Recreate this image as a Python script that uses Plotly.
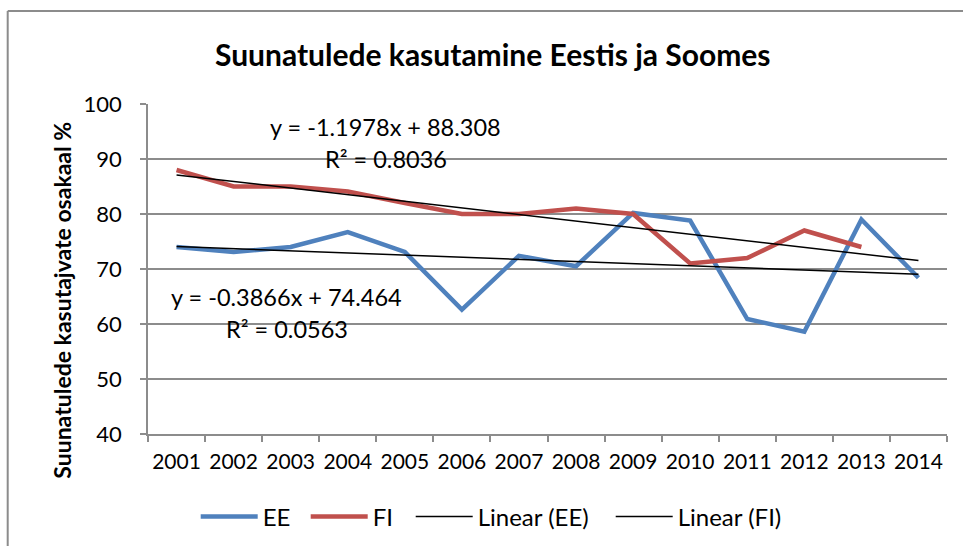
import plotly.graph_objects as go

# ---------------- data ----------------
years = ["2001", "2002", "2003", "2004", "2005", "2006", "2007",
         "2008", "2009", "2010", "2011", "2012", "2013", "2014"]
ee_values = [74.0, 73.1, 74.0, 76.7, 73.1, 62.6, 72.4,
             70.5, 80.2, 78.8, 60.9, 58.6, 79.0, 68.4]
fi_values = [88.0, 85.0, 85.0, 84.1, 82.0, 80.0, 80.0,
             81.0, 80.0, 71.0, 72.0, 77.0, 74.0, None]
# Excel linear trendline coefficients (y = slope * x + intercept, x = 1..n)
ee_trend = {"slope": -0.3866, "intercept": 74.464, "r2": 0.0563}
fi_trend = {"slope": -1.1978, "intercept": 88.308, "r2": 0.8036}
y_ticks = [40, 50, 60, 70, 80, 90, 100]

title_text = "Suunatulede kasutamine Eestis ja Soomes"
y_title_text = "Suunatulede kasutajvate osakaal %"

# ---------------- styling ----------------
FONT = "Lato, Carlito, Calibri, sans-serif"
BLUE = "#4F81BD"
RED = "#C0504D"
GRID = "#8C8C8C"

W, H = 963, 546
L, R, T, B = 148.3, 947.3, 104.0, 434.0


def px(xp):
    return (xp - L) / (R - L)


def py(yp):
    return (B - yp) / (B - T)


xs = list(range(1, len(years) + 1))
ee_fit = [ee_trend["slope"] * x + ee_trend["intercept"] for x in xs]
fi_fit = [fi_trend["slope"] * x + fi_trend["intercept"] for x in xs]

fig = go.Figure()
fig.add_trace(go.Scatter(x=years, y=ee_values, mode="lines", name="EE",
                         line=dict(color=BLUE, width=4.5), legend="legend"))
fig.add_trace(go.Scatter(x=years, y=fi_values, mode="lines", name="FI",
                         line=dict(color=RED, width=4.5), legend="legend2"))
fig.add_trace(go.Scatter(x=years, y=ee_fit, mode="lines", name="Linear (EE)",
                         line=dict(color="black", width=1.5), legend="legend3"))
fig.add_trace(go.Scatter(x=years, y=fi_fit, mode="lines", name="Linear (FI)",
                         line=dict(color="black", width=1.5), legend="legend4"))

ITEMW = 57
leg_common = dict(orientation="h", yanchor="middle", xanchor="left",
                  bgcolor="rgba(0,0,0,0)", borderwidth=0, itemwidth=ITEMW,
                  font=dict(family=FONT, size=24, color="black"))
legend_y = py(517)
off = ITEMW + 10 + 2
fig.update_layout(
    legend=dict(x=px(265 - off), y=legend_y, **leg_common),
    legend2=dict(x=px(375 - off), y=legend_y, **leg_common),
    legend3=dict(x=px(480 - off), y=legend_y, **leg_common),
    legend4=dict(x=px(680 - off), y=legend_y, **leg_common),
)

fig.update_xaxes(type="category", range=[-0.5, len(years) - 0.5],
                 tickson="boundaries", ticks="outside", tickangle=0,
                 ticklen=6, tickwidth=1.5, tickcolor=GRID,
                 showline=True, linecolor=GRID, linewidth=1.5,
                 showgrid=False, zeroline=False,
                 tickfont=dict(family=FONT, size=21, color="black"),
                 ticklabelstandoff=8)
fig.update_yaxes(range=[40, 100], tickvals=y_ticks, ticks="outside",
                 ticklen=6, tickwidth=1.5, tickcolor=GRID,
                 showline=True, linecolor=GRID, linewidth=1.5,
                 showgrid=True, gridcolor=GRID, gridwidth=1.5,
                 zeroline=False,
                 tickfont=dict(family=FONT, size=22, color="black"),
                 ticklabelstandoff=14)

annotations = [
    dict(text="<b>" + title_text + "</b>", x=px(493), y=py(54),
         font=dict(family=FONT, size=30, color="black")),
    dict(text="<b>" + y_title_text + "</b>", x=px(62), y=py(300), textangle=-90,
         font=dict(family=FONT, size=23, color="black")),
    dict(text=f"y = {fi_trend['slope']}x + {fi_trend['intercept']:.3f}",
         x=px(386), y=py(127), font=dict(family=FONT, size=23.5, color="black")),
    dict(text=f"R² = {fi_trend['r2']:.4f}",
         x=px(386), y=py(159), font=dict(family=FONT, size=23.5, color="black")),
    dict(text=f"y = {ee_trend['slope']}x + {ee_trend['intercept']:.3f}",
         x=px(287), y=py(297), font=dict(family=FONT, size=23.5, color="black")),
    dict(text=f"R² = {ee_trend['r2']:.4f}",
         x=px(287), y=py(329), font=dict(family=FONT, size=23.5, color="black")),
]
for a in annotations:
    a.update(xref="paper", yref="paper", showarrow=False,
             xanchor="center", yanchor="middle")

shapes = [
    dict(type="line", xref="paper", yref="paper", x0=px(8), x1=px(970),
         y0=py(11), y1=py(11), line=dict(color=GRID, width=2)),
    dict(type="line", xref="paper", yref="paper", x0=px(8), x1=px(8),
         y0=py(11), y1=py(560), line=dict(color=GRID, width=2)),
]

fig.update_layout(
    width=W, height=H,
    margin=dict(l=L, r=W - R, t=T, b=H - B, autoexpand=False),
    paper_bgcolor="white", plot_bgcolor="white",
    showlegend=True,
    annotations=annotations, shapes=shapes,
    font=dict(family=FONT, color="black"),
)

fig.write_html("out.html", config={"displayModeBar": False},
               post_script="document.body.style.margin='0px';"
                           "document.body.style.overflow='hidden';")
